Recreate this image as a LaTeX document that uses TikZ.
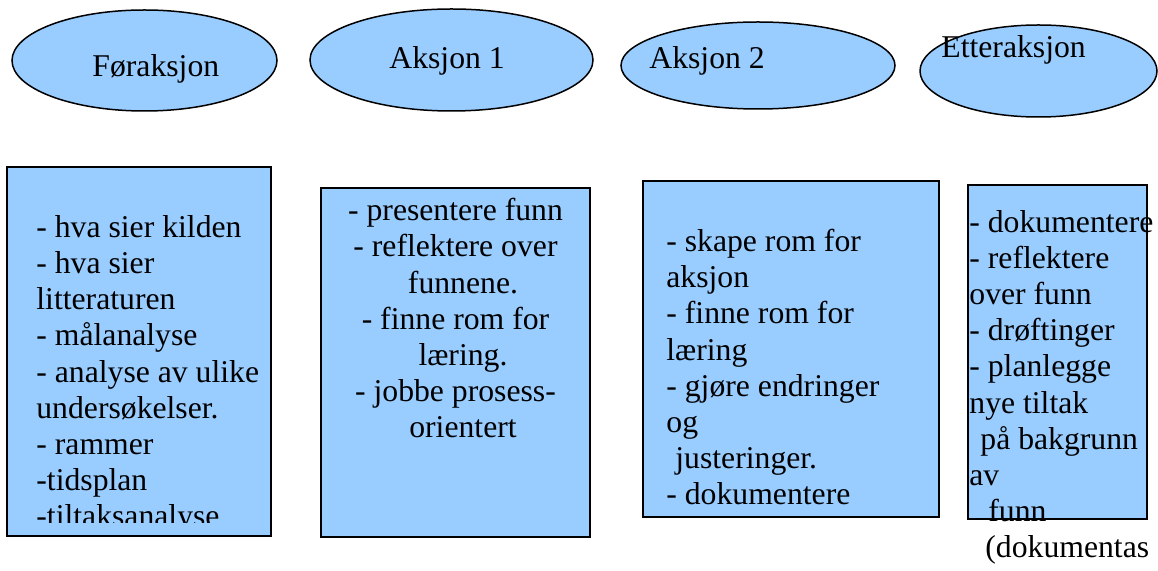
\documentclass[tikz,border=0pt]{standalone}
\usepackage{fontspec}
\setmainfont{Liberation Serif}
\usepackage{tikz}
\usetikzlibrary{shapes.geometric}
\definecolor{lysblaa}{HTML}{99CCFF}

\begin{document}
\begin{tikzpicture}[x=0.5pt, y=-0.5pt,
  fase/.style={ellipse, draw=black, fill=lysblaa, line width=0.75pt, inner sep=0pt},
  boks/.style={rectangle, draw=black, fill=lysblaa, line width=0.75pt, inner sep=0pt},
  tekst/.style={font=\fontsize{15.85}{18.1}\selectfont, inner sep=0pt, align=left, anchor=base west}]
\useasboundingbox (0,0) rectangle (1158,571);
%ellipses
\node (FA) [fase, minimum width=132.5pt, minimum height=50.5pt] at (144.5,60.5) {};
\node (A1) [fase, minimum width=141.5pt, minimum height=51pt] at (451.5,60) {};
\node (A2) [fase, minimum width=137pt, minimum height=43.5pt] at (758,65.5) {};
\node (EA) [fase, minimum width=118.5pt, minimum height=46pt] at (1038.5,71) {};

%boxes
\node (bFA) [boks, minimum width=132pt, minimum height=184.5pt] at (139,351.5) {};
\node (bA1) [boks, minimum width=134.5pt, minimum height=174.5pt] at (455.5,362.5) {};
\node (bA2) [boks, minimum width=148pt, minimum height=168pt] at (791,349) {};
\node (bEA) [boks, minimum width=89.5pt, minimum height=167pt] at (1057.5,352) {};

%titles
\node (tFA) [tekst] at (92,77) {Føraksjon};
\node (tA1) [tekst] at (389,69) {Aksjon 1};
\node (tA2) [tekst] at (649,69) {Aksjon 2};
\node (tEA) [tekst] at (941,58) {Etteraksjon};

%box texts (placed at the baseline of the last line)
\begin{scope}
\clip (7,167) rectangle (271,523);
\node (lFA) [tekst] at (36,527) {- hva sier kilden\\
- hva sier\\
litteraturen\\
- målanalyse\\
- analyse av ulike\\
undersøkelser.\\
- rammer\\
-tidsplan\\
-tiltaksanalyse};
\end{scope}
\node (lA1) [tekst, align=center, anchor=base] at (455.5,438) {- presentere funn\\
- reflektere over\\
\hspace*{7.5pt}funnene.\\
- finne rom for\hspace*{3.5pt}\\
\hspace*{7.5pt}læring.\\
- jobbe prosess-\\
\hspace*{7.5pt}orientert};
\node (lA2) [tekst] at (666,505) {- skape rom for\\
aksjon\\
- finne rom for\\
læring\\
- gjøre endringer\\
og\\
\hspace*{4.5pt}justeringer.\\
- dokumentere};
\node (lEA) [tekst] at (969,558) {- dokumentere\\
- reflektere\\
over funn\\
- drøftinger\\
- planlegge\\
nye tiltak\\
\hspace*{5.5pt}på bakgrunn\\
av\\
\hspace*{9.5pt}funn\\
\hspace*{8pt}(dokumentas};
\end{tikzpicture}
\end{document}
